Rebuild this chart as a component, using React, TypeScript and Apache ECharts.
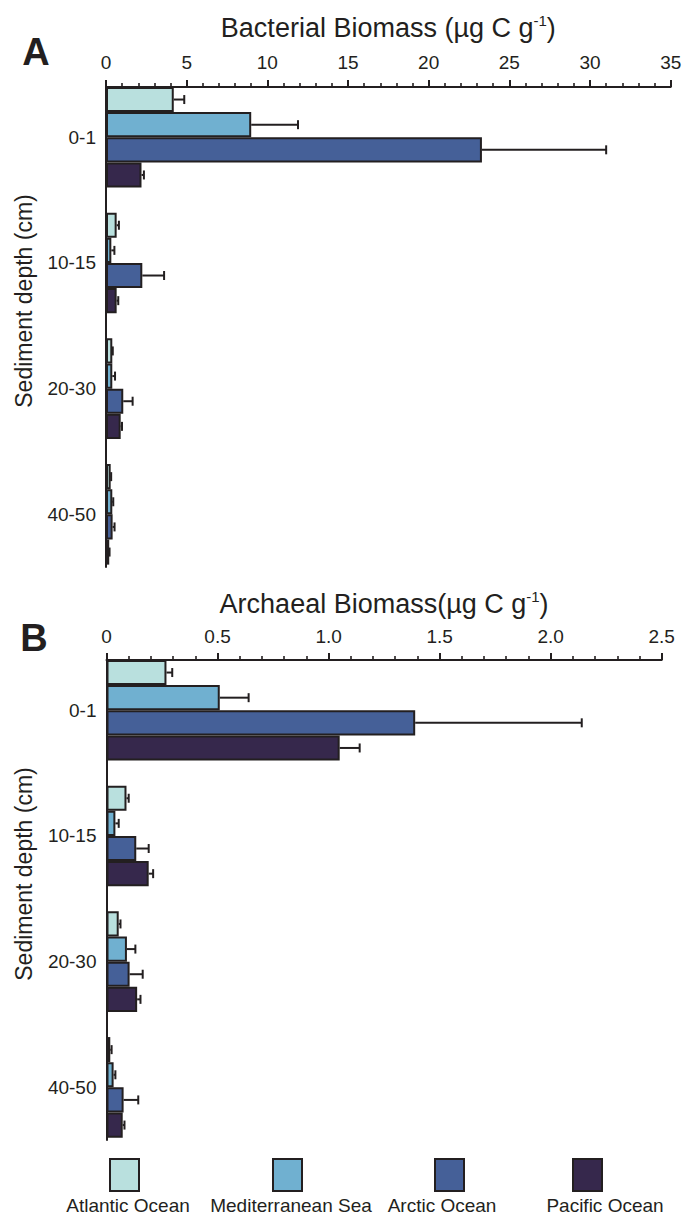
import React, { useEffect, useRef } from "react";
import * as echarts from "echarts";

const depths = ["0-1", "10-15", "20-30", "40-50"];
const oceans = ["Atlantic Ocean", "Mediterranean Sea", "Arctic Ocean", "Pacific Ocean"];

// Bacterial biomass (µg C g-1) per ocean across depths, and error (SD)
const atlanticBact = [4.2, 0.66, 0.39, 0.29];
const atlanticBactErr = [0.65, 0.14, 0.03, 0.03];
const medBact = [9.0, 0.33, 0.39, 0.39];
const medBactErr = [2.9, 0.19, 0.17, 0.06];
const arcticBact = [23.3, 2.25, 1.07, 0.41];
const arcticBactErr = [7.7, 1.35, 0.58, 0.12];
const pacificBact = [2.2, 0.66, 0.91, 0.2];
const pacificBactErr = [0.15, 0.1, 0.08, 0.02];

// Archaeal biomass (µg C g-1)
const atlanticArch = [0.27, 0.09, 0.055, 0.017];
const atlanticArchErr = [0.026, 0.01, 0.008, 0.006];
const medArch = [0.51, 0.04, 0.092, 0.032];
const medArchErr = [0.13, 0.015, 0.038, 0.008];
const arcticArch = [1.39, 0.134, 0.104, 0.077];
const arcticArchErr = [0.75, 0.056, 0.059, 0.066];
const pacificArch = [1.05, 0.19, 0.138, 0.073];
const pacificArchErr = [0.09, 0.02, 0.015, 0.008];

const bactTicks = { min: 0, max: 35, interval: 5 };
const archTicks = { min: 0, max: 2.5, interval: 0.5 };

const colors = ["#b9e0de", "#70b0d0", "#456098", "#36284c"];
const ink = "#231f20";
const font = "'Liberation Sans', Arial, Helvetica, sans-serif";

const bactSets = [
  [atlanticBact, atlanticBactErr],
  [medBact, medBactErr],
  [arcticBact, arcticBactErr],
  [pacificBact, pacificBactErr],
];
const archSets = [
  [atlanticArch, atlanticArchErr],
  [medArch, medArchErr],
  [arcticArch, arcticArchErr],
  [pacificArch, pacificArchErr],
];

function barSeries(sets: number[][][], axisIdx: number) {
  return sets.map(([vals], i) => ({
    type: "bar",
    name: oceans[i],
    xAxisIndex: axisIdx,
    yAxisIndex: axisIdx,
    data: vals,
    barGap: "0%",
    barCategoryGap: "20%",
    itemStyle: { color: colors[i], borderColor: ink, borderWidth: 2 },
  }));
}

function errSeries(sets: number[][][], axisIdx: number) {
  return sets.map(([vals, errs], oi) => ({
    type: "custom",
    name: "err-" + axisIdx + "-" + oi,
    xAxisIndex: axisIdx,
    yAxisIndex: axisIdx,
    z: 5,
    encode: { x: 0, y: 1 },
    data: vals.map((v, i) => [v, i, v + errs[i]]),
    renderItem: (params: any, api: any) => {
      const v = api.value(0);
      const c = api.value(1);
      const e = api.value(2);
      const s = api.coord([v, c]);
      const t = api.coord([e, c]);
      const band = api.size([0, 1])[1];
      const bw = (band * 0.8) / 4;
      const y = s[1] + (oi - 1.5) * bw;
      const st = { stroke: ink, lineWidth: 2 };
      return {
        type: "group",
        children: [
          { type: "line", shape: { x1: s[0], y1: y, x2: t[0], y2: y }, style: st },
          { type: "line", shape: { x1: t[0], y1: y - 4.5, x2: t[0], y2: y + 4.5 }, style: st },
        ],
      };
    },
  }));
}

function topAxis(gridIndex: number, ticks: any, name: string, nameGap: number, labelMargin: number, fmt: (v: number) => string) {
  return {
    type: "value",
    gridIndex,
    position: "top",
    min: ticks.min,
    max: ticks.max,
    interval: ticks.interval,
    axisLine: { show: true, onZero: false, lineStyle: { color: ink, width: 2 } },
    axisTick: { show: true, length: 7, lineStyle: { color: ink, width: 2 } },
    minorTick: { show: true, splitNumber: 5, length: 4, lineStyle: { color: ink, width: 1.6 } },
    splitLine: { show: false },
    minorSplitLine: { show: false },
    axisLabel: { fontSize: 19, fontFamily: font, color: ink, margin: labelMargin, formatter: fmt, showMaxLabel: true, showMinLabel: true },
    name,
    nameLocation: "middle",
    nameGap,
    nameTextStyle: {
      fontSize: 27,
      fontFamily: font,
      color: ink,
      lineHeight: 30,
      rich: { sup: { fontSize: 15, fontFamily: font, color: ink, verticalAlign: "top", lineHeight: 15 } },
    },
  };
}

function hiddenX(gridIndex: number, ticks: any) {
  return { type: "value", gridIndex, min: ticks.min, max: ticks.max, interval: ticks.interval, show: false };
}

function catY(gridIndex: number) {
  return {
    type: "category",
    gridIndex,
    inverse: true,
    data: depths,
    axisLine: { show: false },
    axisTick: { show: false },
    axisLabel: { fontSize: 19, fontFamily: font, color: ink, margin: 10 },
  };
}

function lineY(gridIndex: number) {
  return {
    type: "value",
    gridIndex,
    min: 0,
    max: 1,
    axisLine: { show: true, onZero: false, lineStyle: { color: ink, width: 2 } },
    axisTick: { show: false },
    axisLabel: { show: false },
    splitLine: { show: false },
  };
}

const legendX = [109, 272, 434, 572];
const legendTextX = [128, 291, 442, 605];

export default function App() {
  const ref = useRef<HTMLDivElement>(null);
  useEffect(() => {
    if (!ref.current) return;
    const chart = echarts.init(ref.current, null, { renderer: "svg" });
    const option: any = {
      animation: false,
      backgroundColor: "#ffffff",
      grid: [
        { left: 106, top: 74.4, width: 564.7, height: 502.8 },
        { left: 106, top: 87, width: 564.7, height: 480 },
        { left: 106.5, top: 647.4, width: 555.2, height: 502.8 },
        { left: 106.5, top: 660, width: 555.2, height: 480 },
      ],
      xAxis: [
        hiddenX(0, bactTicks),
        topAxis(1, bactTicks, "Bacterial Biomass (µg C g{sup|-1})", 44, 15, (v: number) => String(v)),
        hiddenX(2, archTicks),
        topAxis(3, archTicks, "Archaeal Biomass(µg C g{sup|-1})", 41, 14, (v: number) => (v === 0 ? "0" : v.toFixed(1))),
      ],
      yAxis: [catY(0), lineY(1), catY(2), lineY(3)],
      legend: oceans.map((n, i) => ({
        data: [n],
        left: legendX[i],
        top: 1158,
        padding: 0,
        itemWidth: 29,
        itemHeight: 32,
        icon: "rect",
        selectedMode: false,
        formatter: () => "",
      })),
      series: [
        ...barSeries(bactSets, 0),
        ...errSeries(bactSets, 0),
        ...barSeries(archSets, 2),
        ...errSeries(archSets, 2),
      ],
      graphic: [
        { type: "text", x: 36, y: 52, style: { text: "A", fontSize: 38, fontWeight: "bold", fontFamily: font, fill: ink, align: "center", verticalAlign: "middle" } },
        { type: "text", x: 34, y: 638, style: { text: "B", fontSize: 38, fontWeight: "bold", fontFamily: font, fill: ink, align: "center", verticalAlign: "middle" } },
        { type: "text", x: 24, y: 301, rotation: Math.PI / 2, style: { text: "Sediment depth (cm)", fontSize: 23, fontFamily: font, fill: ink, align: "center", verticalAlign: "middle" } },
        { type: "text", x: 24, y: 874, rotation: Math.PI / 2, style: { text: "Sediment depth (cm)", fontSize: 23, fontFamily: font, fill: ink, align: "center", verticalAlign: "middle" } },
        ...oceans.map((n, i) => ({
          type: "text",
          x: legendTextX[i],
          y: 1205,
          style: { text: n, fontSize: 19, fontFamily: font, fill: ink, align: "center", verticalAlign: "middle" },
        })),
      ],
    };
    chart.setOption(option);
    return () => chart.dispose();
  }, []);
  return <div ref={ref} style={{ position: "absolute", left: 0, top: 0, width: 685, height: 1222 }} />;
}
